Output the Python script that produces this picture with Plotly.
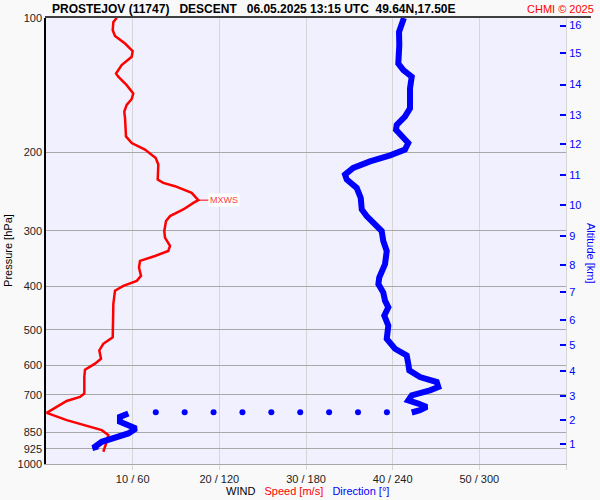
import numpy as np
import plotly.graph_objects as go

# ---- data ----
speed_p = [100.0, 102.1, 106.5, 109.7, 114.1, 118.7, 122.2, 127.5, 133.2, 135.4,
           141.4, 147.6, 151.9, 156.6, 162.1, 167.8, 184.3, 190.7, 197.3, 206.0,
           213.1, 230.3, 234.3, 238.3, 246.7, 256.1, 259.7, 268.7, 278.1, 285.3,
           300.4, 310.9, 324.4, 332.9, 341.6, 350.5, 362.7, 378.6, 388.4, 398.6,
           408.9, 437.7, 519.7, 537.6, 556.4, 580.7, 595.8, 614.5, 638.3, 695.2,
           707.4, 722.1, 744.8, 768.1, 797.5, 839.6, 861.5, 891.8, 938.8]
speed_ms = [8.16, 7.77, 7.70, 7.96, 9.12, 10.0, 9.89, 8.73, 8.08, 8.34,
            9.31, 10.07, 9.89, 9.31, 9.03, 9.12, 9.23, 9.89, 11.42, 12.66,
            12.96, 12.89, 13.53, 14.88, 16.81, 17.57, 17.0, 15.84, 14.31, 13.85,
            13.65, 13.73, 14.31, 14.11, 12.58, 10.85, 10.73, 10.96, 10.47, 8.92,
            7.96, 7.77, 7.70, 6.61, 6.15, 6.35, 5.65, 4.50, 4.42, 4.42,
            3.92, 2.39, 1.23, 0.08, 2.39, 6.43, 7.19, 7.0, 6.61]

dir_upper_p = [100.0, 103.8, 107.5, 115.1, 123.3, 126.5, 130.9, 135.4, 143.8, 159.4,
               166.3, 173.6, 178.1, 184.3, 190.7, 197.3, 203.2, 209.6, 216.9, 224.4,
               230.3, 240.4, 253.1, 268.7, 278.1, 300.4, 316.2, 332.9, 356.5, 381.9,
               395.1, 412.5, 430.4, 445.4, 464.8, 489.3, 524.0, 551.6, 570.9, 595.8,
               616.7, 638.3, 655.0, 672.1, 683.6, 701.3, 719.7, 732.0, 744.8, 757.7,
               766.5]
dir_upper_deg = [247.8, 246.3, 244.4, 244.6, 244.4, 243.9, 247.4, 253.2, 252.0, 252.0,
                 248.5, 242.8, 242.3, 246.3, 250.8, 248.5, 238.2, 224.3, 212.7, 207.0,
                 208.2, 215.1, 217.9, 218.6, 222.0, 232.4, 233.5, 235.9, 234.7, 230.7,
                 230.1, 233.5, 234.7, 237.0, 234.2, 237.0, 235.9, 241.6, 249.7, 250.8,
                 251.5, 258.9, 270.5, 271.6, 265.8, 253.2, 250.8, 257.7, 263.6, 258.9,
                 253.2]
dir_lower_p = [770.5, 784.1, 804.5, 818.2, 832.2, 853.9, 876.2, 891.8, 914.9, 930.6]
dir_lower_deg = [57.0, 51.2, 51.2, 58.2, 62.3, 57.0, 46.6, 38.6, 33.9, 34.6]

gap_dot_deg = [76, 96, 116, 136, 156, 176, 196, 216, 236]
gap_dot_p = 766

p_ticks = [100, 200, 300, 400, 500, 600, 700, 850, 925, 1000]
x_ticks = [10, 20, 30, 40, 50, 60]
x_tick_text = ["10 / 60", "20 / 120", "30 / 180", "40 / 240", "50 / 300", ""]
alt_km = [str(k) for k in range(1, 17)]
alt_p = [902, 797, 704, 620, 542, 475, 412, 358, 308, 263, 225, 192, 165, 141, 120, 104]

FONT = "Arial, Liberation Sans, sans-serif"
RED = "#ff0000"
BLUE = "#0000ff"

fig = go.Figure()

fig.add_trace(go.Scatter(x=dir_upper_deg, y=dir_upper_p, xaxis="x2", yaxis="y",
                         mode="lines", line=dict(color=BLUE, width=6), hoverinfo="skip"))
fig.add_trace(go.Scatter(x=dir_lower_deg, y=dir_lower_p, xaxis="x2", yaxis="y",
                         mode="lines", line=dict(color=BLUE, width=6), hoverinfo="skip"))
fig.add_trace(go.Scatter(x=gap_dot_deg, y=[gap_dot_p] * len(gap_dot_deg), xaxis="x2", yaxis="y",
                         mode="markers", marker=dict(color=BLUE, size=6), hoverinfo="skip"))
fig.add_trace(go.Scatter(x=speed_ms, y=speed_p, xaxis="x", yaxis="y",
                         mode="lines", line=dict(color=RED, width=2.5), hoverinfo="skip"))
# invisible trace so the altitude axis is drawn
fig.add_trace(go.Scatter(x=speed_ms, y=speed_p, xaxis="x", yaxis="y2",
                         mode="lines", line=dict(color="rgba(0,0,0,0)", width=0), hoverinfo="skip"))

imax = int(np.argmax(speed_ms))
smax = speed_ms[imax]
pmax_log = float(np.log10(speed_p[imax]))

L, R, T, B = 46, 34, 16, 36
W, H = 600, 500
pw, ph = W - L - R, H - T - B


def px_x(px):
    return (px - L) / pw


def px_y(py):
    return (H - B - py) / ph


fig.update_layout(
    width=W, height=H,
    margin=dict(l=L, r=R, t=T, b=B),
    paper_bgcolor="#f9f9f9",
    plot_bgcolor="#f0f0fe",
    showlegend=False,
    font=dict(family=FONT, size=11, color="#222222"),
    xaxis=dict(range=[0, 60], tickvals=x_ticks, ticktext=x_tick_text,
               ticks="outside", ticklen=5, tickcolor="#d6d6d6",
               showgrid=True, gridcolor="#d6d6d6", gridwidth=1,
               showline=True, linecolor="#a8a8a8", linewidth=1,
               zeroline=False, tickfont=dict(size=11, color="#222222")),
    xaxis2=dict(range=[0, 360], overlaying="x", visible=False),
    yaxis=dict(type="log", range=[3, 2], tickvals=p_ticks, ticktext=[str(v) for v in p_ticks],
               ticks="", showgrid=True, gridcolor="#a8a8a8", gridwidth=1,
               showline=True, linecolor="#000000", linewidth=1.5,
               zeroline=False, tickfont=dict(size=11, color="#222222")),
    yaxis2=dict(type="log", range=[3, 2], overlaying="y", side="right",
                tickvals=alt_p, ticktext=alt_km, ticks="inside", ticklen=6, tickwidth=2,
                tickcolor=BLUE, tickfont=dict(size=11, color=BLUE),
                showgrid=False, showline=True, linecolor="#d6d6d6", linewidth=1,
                zeroline=False),
)

shapes = [
    dict(type="line", xref="paper", yref="paper", x0=px_x(45), x1=px_x(591),
         y0=px_y(15), y1=px_y(15), line=dict(color="#000000", width=1.5)),
    dict(type="line", xref="paper", yref="y", x0=px_x(555), x1=px_x(568),
         y0=pmax_log, y1=pmax_log, line=dict(color=RED, width=1.5)),
    dict(type="line", xref="paper", yref="y", x0=px_x(2), x1=px_x(12),
         y0=pmax_log, y1=pmax_log, line=dict(color="#000000", width=1.5)),
]
fig.update_layout(shapes=shapes)

nb = "\u00a0"
title = f"<b>PROSTEJOV (11747){nb*3}DESCENT{nb*3}06.05.2025 13:15 UTC{nb*2}49.64N,17.50E</b>"
annotations = [
    dict(text=title, xref="paper", yref="paper", x=px_x(50), y=px_y(7),
         xanchor="left", yanchor="middle", showarrow=False,
         font=dict(family=FONT, size=12, color="#000000")),
    dict(text="CHMI © 2025", xref="paper", yref="paper", x=px_x(596), y=px_y(7),
         xanchor="right", yanchor="middle", showarrow=False,
         font=dict(family=FONT, size=11, color=RED)),
    dict(text="Pressure [hPa]", xref="paper", yref="paper", x=px_x(8), y=px_y(250),
         xanchor="center", yanchor="middle", textangle=-90, showarrow=False,
         font=dict(family=FONT, size=11, color="#000000")),
    dict(text="Altitude [km]", xref="paper", yref="paper", x=px_x(591), y=px_y(252),
         xanchor="center", yanchor="middle", textangle=90, showarrow=False,
         font=dict(family=FONT, size=11, color=BLUE)),
    dict(text=f"WIND{nb*3}<span style='color:{RED}'>Speed [m/s]</span>{nb*3}"
              f"<span style='color:{BLUE}'>Direction [°]</span>",
         xref="paper", yref="paper", x=px_x(307), y=px_y(491),
         xanchor="center", yanchor="middle", showarrow=False,
         font=dict(family=FONT, size=11, color="#000000")),
    dict(text="MXWS", xref="x", yref="y", x=smax, y=pmax_log,
         showarrow=True, arrowhead=0, arrowwidth=1, arrowcolor=RED,
         ax=10, ay=0, xanchor="left", yanchor="middle",
         bgcolor="#ffffff", borderpad=1,
         font=dict(family=FONT, size=9, color="#ff4040")),
]
fig.update_layout(annotations=annotations)

fig.write_html("out.html", config={"displayModeBar": False},
               post_script="document.body.style.margin='0px';document.body.style.padding='0px';")
